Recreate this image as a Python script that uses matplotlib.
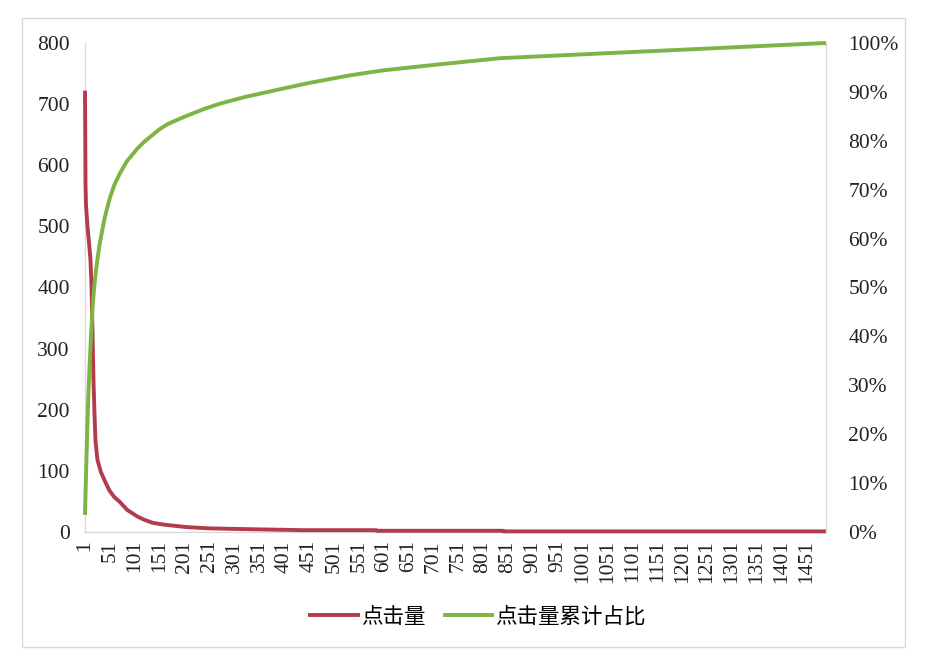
import matplotlib
matplotlib.use("Agg")
import matplotlib.pyplot as plt
from matplotlib.patches import Rectangle
from matplotlib.lines import Line2D

# ---- data ----
n_items = 1490
click_rank = [1, 2, 3, 6, 10, 12, 14, 16, 18, 20, 22, 26, 33, 40, 50, 60, 70, 86, 107,
              120, 137, 160, 205, 250, 305, 372, 440, 586, 587, 841, 842, 1490]
clicks = [722, 570, 535, 500, 465, 445, 405, 330, 250, 195, 150, 118, 98, 85, 68, 57, 50, 36, 25,
          20, 15, 12, 8, 6, 5, 4, 3, 3, 2, 2, 1, 1]

cum_rank = [1, 2, 3, 4, 6, 8, 10, 13, 16, 19, 22, 26, 30, 40, 50, 60, 71, 85, 107, 120,
            150, 165, 180, 205, 240, 272, 320, 386, 450, 534, 600, 700, 836, 1490]
cum_share = [3.5, 7.5, 11.5, 15.5, 22.5, 28.5, 33.5, 40, 45.5, 49.5, 52.5, 55.8, 58.6, 64,
             68, 71, 73.3, 75.8, 78.5, 79.8, 82.3, 83.3, 84.0, 85.1, 86.5, 87.6, 88.9, 90.4,
             91.8, 93.4, 94.4, 95.5, 96.9, 100]

x_ticks = list(range(1, 1452, 50))
left_ticks = [0, 100, 200, 300, 400, 500, 600, 700, 800]
right_ticks = [0, 10, 20, 30, 40, 50, 60, 70, 80, 90, 100]
series_names = ["点击量", "点击量累计占比"]

# ---- figure ----
W, H = 926, 660
fig = plt.figure(figsize=(W / 100, H / 100), dpi=100)
fig.patch.set_facecolor("white")

serif = ["Liberation Serif", "DejaVu Serif"]
cjk = ["Noto Sans CJK SC", "DejaVu Sans"]
grey = "#d9d9d9"
red = "#B23C4C"
green = "#7DB443"
lw = 2.8

L, R, T, B = 85, 826, 43, 532
ax = fig.add_axes([L / W, 1 - B / H, (R - L) / W, (B - T) / H])
ax2 = ax.twinx()

ax.plot(click_rank, clicks, color=red, lw=lw, solid_capstyle="butt",
        solid_joinstyle="round", zorder=3, clip_on=False)
ax2.plot(cum_rank, [v / 100 for v in cum_share], color=green, lw=lw,
         solid_capstyle="butt", solid_joinstyle="round", zorder=3, clip_on=False)

ax.set_xlim(1, n_items)
ax.set_ylim(0, 800)
ax2.set_ylim(0, 1)

ax.set_xticks(x_ticks)
ax.set_xticklabels([str(t) for t in x_ticks], rotation=90, fontfamily=serif, fontsize=15.5)
ax.set_yticks(left_ticks)
ax.set_yticklabels([str(t) for t in left_ticks], fontfamily=serif, fontsize=15.5)
ax2.set_yticks([t / 100 for t in right_ticks])
ax2.set_yticklabels([f"{t}%" for t in right_ticks], fontfamily=serif, fontsize=15.5)

ax.tick_params(axis="x", length=0, pad=6, colors="#222222")
ax.tick_params(axis="y", length=0, pad=11, colors="#222222")
ax2.tick_params(axis="y", length=0, pad=16, colors="#222222")

# spines: left/bottom belong to the primary axes, right to the secondary axes
for s in ("top", "right"):
    ax.spines[s].set_visible(False)
for s in ("top", "left", "bottom"):
    ax2.spines[s].set_visible(False)
for sp in (ax.spines["left"], ax.spines["bottom"], ax2.spines["right"]):
    sp.set_color(grey)
    sp.set_linewidth(1.0)
    sp.set_zorder(1)

# legend
handles = [Line2D([0], [0], color=red, lw=lw), Line2D([0], [0], color=green, lw=lw)]
fig.legend(handles, series_names, loc="center", ncol=2, frameon=False,
           bbox_to_anchor=(478 / W, 1 - 617 / H), prop={"family": cjk, "size": 15.5},
           handlelength=2.2, handletextpad=0.15, columnspacing=0.9)

# outer border
fig.add_artist(Rectangle((22 / W, 1 - 647 / H), (905 - 22) / W, (647 - 18) / H,
                         transform=fig.transFigure, fill=False, edgecolor=grey, lw=1.0))

fig.savefig("out.png", dpi=100, facecolor="white")
